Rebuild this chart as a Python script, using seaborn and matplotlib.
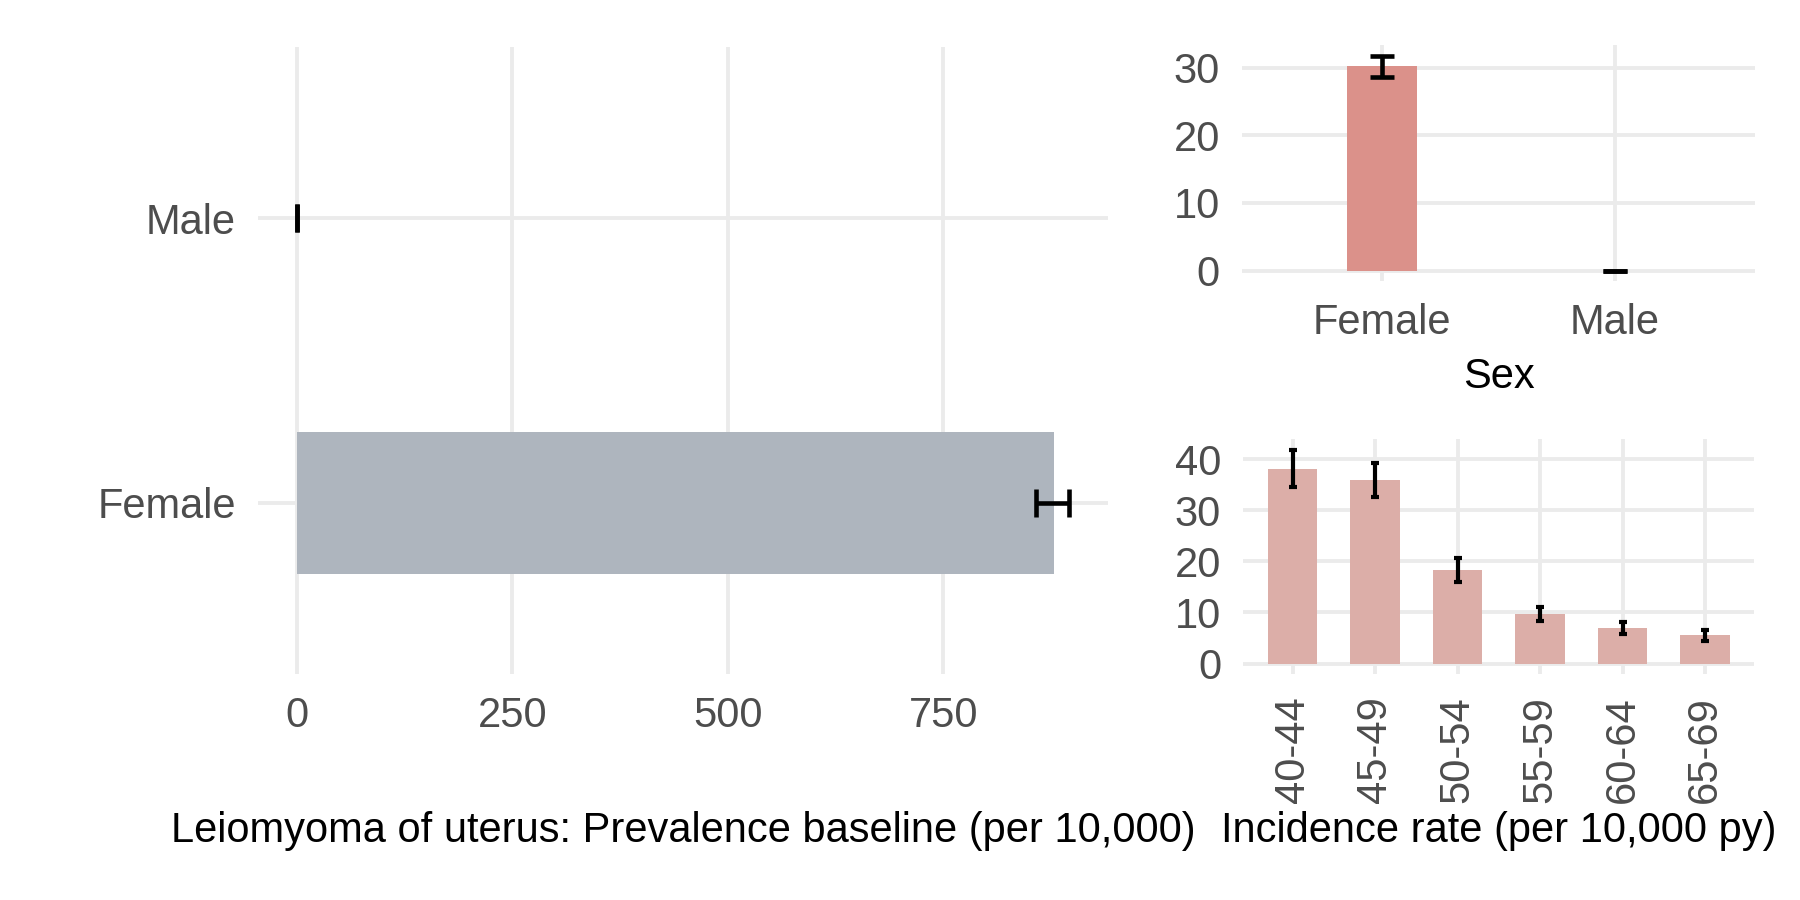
import numpy as np
import matplotlib
matplotlib.use("Agg")
import matplotlib.pyplot as plt
import seaborn as sns

# prevalence baseline by sex (per 10,000)
prev_sex = ["Male", "Female"]
prev_val = [0.0, 878.0]
prev_lo = [0.0, 857.0]
prev_hi = [0.0, 896.0]

# incidence by sex (per 10,000 py)
inc_sex = ["Female", "Male"]
inc_val = [30.2, 0.0]
inc_lo = [28.6, 0.0]
inc_hi = [31.7, 0.0]

# incidence by age group
age_groups = ["40-44", "45-49", "50-54", "55-59", "60-64", "65-69"]
age_val = [38.0, 36.0, 18.4, 9.7, 7.0, 5.6]
age_lo = [34.6, 32.6, 16.0, 8.3, 5.8, 4.5]
age_hi = [41.8, 39.3, 20.7, 11.0, 8.1, 6.5]

sns.set_theme(style="whitegrid")
plt.rcParams["font.family"] = ["Liberation Sans", "DejaVu Sans"]
plt.rcParams.update({
    "grid.color": "#EBEBEB",
    "grid.linewidth": 2.8,
    "axes.edgecolor": "white",
    "xtick.color": "#EBEBEB",
    "ytick.color": "#EBEBEB",
    "xtick.labelcolor": "#4D4D4D",
    "ytick.labelcolor": "#4D4D4D",
    "xtick.labelsize": 30,
    "ytick.labelsize": 30,
    "axes.labelsize": 30,
    "xtick.major.size": 4,
    "ytick.major.size": 4,
    "xtick.major.width": 2.8,
    "ytick.major.width": 2.8,
    "xtick.major.pad": 12,
    "ytick.major.pad": 12,
})


def tidy(ax):
    ax.set_xlabel("")
    ax.set_ylabel("")
    ax.grid(True, axis="both")
    for s in ax.spines.values():
        s.set_visible(False)
    ax.set_axisbelow(True)


fig = plt.figure(figsize=(18, 9), dpi=100)

# left: prevalence
ax1 = fig.add_axes([0.1435, 0.2512, 0.472, 0.6965])
sns.barplot(x=prev_val, y=prev_sex, order=prev_sex, orient="h", color="#AEB5BE",
            saturation=1, width=0.5, linewidth=0, ax=ax1)
pos = np.arange(len(prev_sex))
ax1.errorbar(prev_val, pos,
             xerr=[np.array(prev_val) - np.array(prev_lo), np.array(prev_hi) - np.array(prev_val)],
             fmt="none", ecolor="black", elinewidth=3.3, capsize=10.4, capthick=3.3)
tidy(ax1)
ax1.set_xlim(-44.8, 940.8)
ax1.set_ylim(1.6, -0.6)
ax1.set_xticks([0, 250, 500, 750])

# top right: incidence by sex
ax2 = fig.add_axes([0.690, 0.6875, 0.285, 0.262])
sns.barplot(x=inc_sex, y=inc_val, order=inc_sex, color="#DB918A",
            saturation=1, width=0.3, linewidth=0, ax=ax2)
pos = np.arange(len(inc_sex))
ax2.errorbar(pos, inc_val,
             yerr=[np.array(inc_val) - np.array(inc_lo), np.array(inc_hi) - np.array(inc_val)],
             fmt="none", ecolor="black", elinewidth=3.3, capsize=8.4, capthick=3.3)
tidy(ax2)
ax2.set_xlim(-0.6, 1.6)
ax2.set_ylim(-1.585, 33.3)
ax2.set_yticks([0, 10, 20, 30])
ax2.set_xlabel("Sex", labelpad=10, color="black")

# bottom right: incidence by age group
ax3 = fig.add_axes([0.6907, 0.2509, 0.284, 0.261])
sns.barplot(x=age_groups, y=age_val, order=age_groups, color="#DCAEA8",
            saturation=1, width=0.6, linewidth=0, ax=ax3)
pos = np.arange(len(age_groups))
ax3.errorbar(pos, age_val,
             yerr=[np.array(age_val) - np.array(age_lo), np.array(age_hi) - np.array(age_val)],
             fmt="none", ecolor="black", elinewidth=3, capsize=3, capthick=3)
tidy(ax3)
ax3.set_xlim(-0.6, 5.6)
ax3.set_ylim(-2.09, 43.9)
ax3.set_yticks([0, 10, 20, 30, 40])
ax3.tick_params(axis="x", labelrotation=90)

fig.text(0.3795, 0.077, "Leiomyoma of uterus: Prevalence baseline (per 10,000)",
         ha="center", va="center", fontsize=30, color="black")
fig.text(0.8327, 0.077, "Incidence rate (per 10,000 py)",
         ha="center", va="center", fontsize=30, color="black")

fig.savefig("out.png", dpi=100, facecolor="white")
